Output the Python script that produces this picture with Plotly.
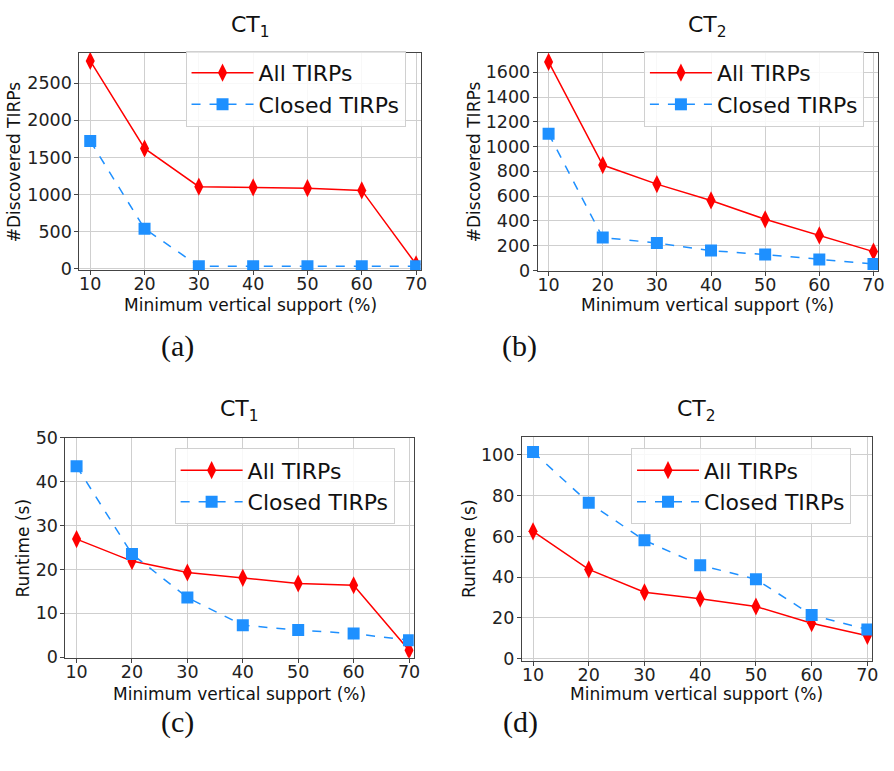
import plotly.graph_objects as go

support = [10, 20, 30, 40, 50, 60, 70]

# (a) CT1 discovered TIRPs
a_all = [2800, 1620, 1105, 1095, 1085, 1055, 60]
a_closed = [1720, 540, 35, 35, 35, 35, 35]
# (b) CT2 discovered TIRPs
b_all = [1684, 851, 697, 565, 413, 283, 152]
b_closed = [1104, 265, 222, 160, 128, 89, 52]
# (c) CT1 runtime
c_all = [26.9, 21.9, 19.3, 18.1, 16.8, 16.4, 1.6]
c_closed = [43.5, 23.5, 13.6, 7.3, 6.2, 5.4, 3.9]
# (d) CT2 runtime
d_all = [62.5, 43.8, 32.6, 29.4, 25.6, 17.4, 11.2]
d_closed = [101.5, 76.5, 58.1, 45.9, 39.0, 21.4, 14.3]

panels = [
    dict(all=a_all, closed=a_closed, title="CT<sub>1</sub>", ytitle="#Discovered TIRPs",
         yrange=[-18, 2908], dtick=500, label="(a)"),
    dict(all=b_all, closed=b_closed, title="CT<sub>2</sub>", ytitle="#Discovered TIRPs",
         yrange=[-5, 1757], dtick=200, label="(b)"),
    dict(all=c_all, closed=c_closed, title="CT<sub>1</sub>", ytitle="Runtime (s)",
         yrange=[-0.1, 50], dtick=10, label="(c)"),
    dict(all=d_all, closed=d_closed, title="CT<sub>2</sub>", ytitle="Runtime (s)",
         yrange=[-1, 109], dtick=20, label="(d)"),
]

W, H = 894, 771
# plot frames in pixels: (left, right, top, bottom)
frames = [(80, 424, 44, 267), (542, 885, 44, 268), (66, 417, 439, 665), (526, 879, 438, 668)]
ytitle_x = [15, 478, 23, 472]
title_y = [17, 17, 411, 411]
xtitle_y = [303, 303, 702, 702]
label_pos = [(179, 345), (524, 345), (179, 731), (525, 731)]
legend_pos = [(187, 42), (649, 42), (176, 450), (636, 450)]

RED = "#ff0000"
BLUE = "#1e90ff"
FONT = "DejaVu Sans"

fig = go.Figure()
layout = dict(width=W, height=H, margin=dict(l=0, r=0, t=0, b=0),
              plot_bgcolor="white", paper_bgcolor="white",
              font=dict(family=FONT, color="#222"), showlegend=True)
annotations = []

for i, p in enumerate(panels):
    n = "" if i == 0 else str(i + 1)
    xa, ya = "x" + n, "y" + n
    lg = "legend" if i == 0 else "legend" + str(i + 1)
    fig.add_trace(go.Scatter(x=support, y=p["all"], mode="lines+markers", name="All TIRPs",
                             line=dict(color=RED, width=1.5),
                             marker=dict(symbol="diamond-tall", size=13, color=RED),
                             xaxis=xa, yaxis=ya, legend=lg))
    fig.add_trace(go.Scatter(x=support, y=p["closed"], mode="lines+markers", name="Closed TIRPs",
                             line=dict(color=BLUE, width=1.5, dash="dash"),
                             marker=dict(symbol="square", size=12, color=BLUE),
                             xaxis=xa, yaxis=ya, legend=lg))
    l, r, t, b = frames[i]
    common = dict(showline=True, mirror=True, linecolor="#444", linewidth=1,
                  ticks="outside", ticklen=4, tickcolor="#444",
                  showgrid=True, gridcolor="#cfcfcf", gridwidth=1, zeroline=False,
                  tickfont=dict(family=FONT, size=17.5, color="#222"))
    layout["xaxis" + n] = dict(domain=[l / W, r / W], range=[8, 70.85], anchor=ya,
                               tickvals=support, ticklabelstandoff=-6, **common)
    layout["yaxis" + n] = dict(domain=[1 - b / H, 1 - t / H], range=p["yrange"], anchor=xa,
                               dtick=p["dtick"], tick0=0, ticklabelstandoff=-1, **common)
    lx, ly = legend_pos[i]
    layout[lg] = dict(x=lx / W, y=1 - ly / H, xanchor="left", yanchor="top",
                      bgcolor="rgba(255,255,255,0.85)", bordercolor="#d0d0d0", borderwidth=1,
                      itemwidth=62,
                      font=dict(family=FONT, size=22, color="#111"), tracegroupgap=0)
    cx = (l + r) / 2
    annotations.append(dict(x=cx / W, y=1 - title_y[i] / H, xref="paper", yref="paper",
                            text=p["title"], showarrow=False, xanchor="center", yanchor="middle",
                            font=dict(family=FONT, size=22, color="#111")))
    annotations.append(dict(x=cx / W, y=1 - xtitle_y[i] / H, xref="paper", yref="paper",
                            text="Minimum vertical support (%)", showarrow=False,
                            xanchor="center", yanchor="middle",
                            font=dict(family=FONT, size=17, color="#111")))
    annotations.append(dict(x=ytitle_x[i] / W, y=1 - ((t + b) / 2) / H, xref="paper", yref="paper",
                            text=p["ytitle"], showarrow=False, textangle=-90,
                            xanchor="center", yanchor="middle",
                            font=dict(family=FONT, size=17, color="#111")))
    lxp, lyp = label_pos[i]
    annotations.append(dict(x=lxp / W, y=1 - lyp / H, xref="paper", yref="paper",
                            text=p["label"], showarrow=False, xanchor="center", yanchor="middle",
                            font=dict(family="Liberation Serif", size=30, color="#111")))

layout["annotations"] = annotations
fig.update_layout(**layout)
fig.write_html("out.html")
